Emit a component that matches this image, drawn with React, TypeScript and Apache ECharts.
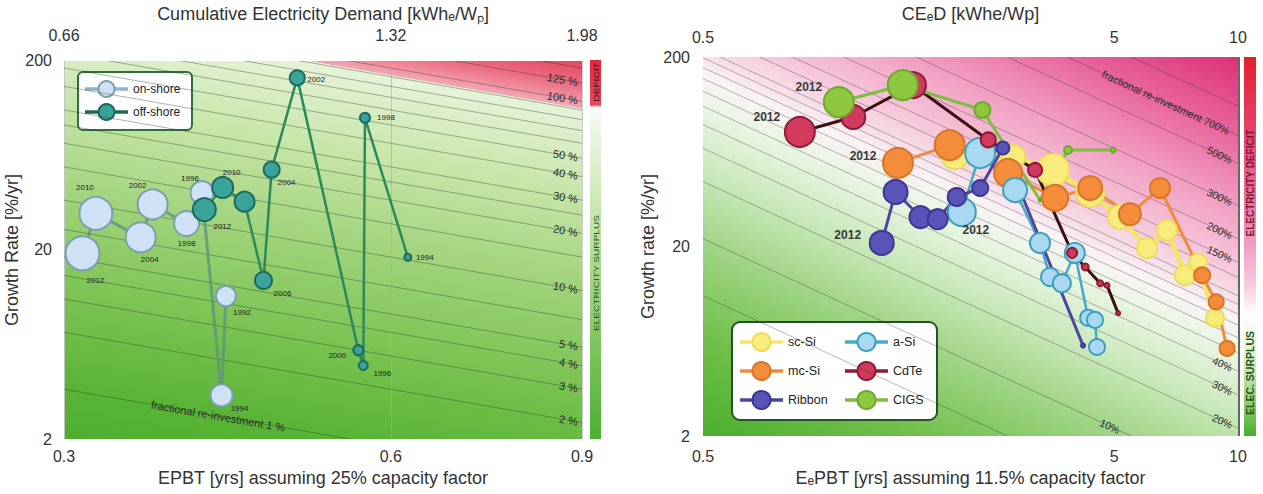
import React, { useEffect, useRef } from 'react';
import * as echarts from 'echarts';

const FONT = '"Liberation Sans", Arial, Helvetica, sans-serif';

// Fractional re-investment iso-lines: growth [%/yr] = FACTOR * f[%] / EPBT [yrs]
const REINVEST_FACTOR = 1.1;
const isoGrowth = (fPct: number, epbt: number) => (REINVEST_FACTOR * fPct) / epbt;

// ---------------- shared ----------------
const growthRange = [2, 200];
const growthTicks = [2, 20, 200];

// ---------------- left panel: wind ----------------
const windEpbtRange = [0.3, 0.9];
const windEpbtTicks = [0.3, 0.6, 0.9];
const windCedTickLabels = ['0.66', '1.32', '1.98'];

const onshoreYears = ['1992', '1994', '1996', '1998', '2002', '2004', '2010', '2012'];
const onshoreEpbt = [0.423, 0.419, 0.402, 0.389, 0.362, 0.353, 0.321, 0.312];
const onshoreGrowth = [11.4, 3.4, 40.2, 27.6, 34.8, 23.3, 31.2, 19.2];
const onshoreSize = [20, 22, 23, 25, 30, 30, 33, 34];

const offshoreYears = ['1994', '1998', '1996', '2000', '2002', '2004', '2006', '', '2010', '2012'];
const offshoreEpbt = [0.622, 0.568, 0.566, 0.56, 0.492, 0.466, 0.458, 0.44, 0.42, 0.404];
const offshoreGrowth = [18.3, 100, 4.9, 5.9, 162.6, 53.2, 13.8, 36.0, 42.8, 32.7];
const offshoreSize = [7, 10, 9, 10, 15, 16, 17, 20, 21, 23];

const windIsoLevels = [1, 2, 3, 4, 5, 7, 10, 15, 20, 25, 30, 40, 50, 60, 70, 80, 90, 100, 125, 150, 175];
const windIsoLabelLevels = [125, 100, 50, 40, 30, 20, 10, 5, 4, 3, 2, 1];
const windIsoLabelTexts = ['125 %', '100 %', '50 %', '40 %', '30 %', '20 %', '10 %', '5 %', '4 %', '3 %', '2 %', 'fractional re-investment 1 %'];

// ---------------- right panel: PV ----------------
const pvEpbtRange = [0.5, 10];
const pvEpbtTicks = [0.5, 5, 10];
const pvCedTickLabels = ['0.5', '5', '10'];

const scSiEpbt = [2.05, 2.84, 3.55, 4.37, 5.16, 6.01, 6.72, 7.43, 8.0, 8.79];
const scSiGrowth = [60.8, 59.3, 50.7, 38.3, 28.6, 19.6, 24.4, 14.1, 16.4, 8.4];
const scSiSize = [28, 24, 32, 28, 24, 20, 20, 20, 18, 18];
const scSiLabels = ['', '', '', '', '', '', '', '', '', ''];

const mcSiEpbt = [1.49, 1.99, 2.76, 3.59, 4.37, 5.46, 6.46, 8.18, 8.85, 9.41];
const mcSiGrowth = [55.2, 68.6, 48.9, 36.1, 40.7, 29.6, 40.7, 14.1, 10.2, 5.8];
const mcSiSize = [30, 30, 28, 26, 24, 22, 20, 16, 15, 15];
const mcSiLabels = ['2012', '', '', '', '', '', '', '', '', ''];

const aSiEpbt = [2.13, 2.36, 2.87, 3.3, 3.49, 3.73, 4.01, 4.32, 4.49, 4.54];
const aSiGrowth = [30.4, 62.3, 39.7, 20.9, 13.8, 12.8, 18.5, 8.4, 8.2, 5.9];
const aSiSize = [28, 30, 24, 20, 18, 18, 20, 16, 16, 16];
const aSiLabels = ['2012', '', '', '', '', '', '', '', '', ''];

const ribbonEpbt = [1.36, 1.47, 1.69, 1.86, 2.07, 2.36, 2.68, 4.2];
const ribbonGrowth = [20.9, 38.8, 28.6, 27.9, 36.5, 40.7, 66.2, 6.0];
const ribbonSize = [24, 24, 22, 20, 18, 16, 13, 4];
const ribbonLabels = ['2012', '', '', '', '', '', '', ''];

const cdteEpbt = [0.86, 1.16, 1.62, 2.47, 3.21, 3.95, 4.25, 4.62, 4.8, 5.11];
const cdteGrowth = [80.4, 96.5, 142, 73.0, 50.7, 18.5, 15.6, 12.8, 12.5, 8.9];
const cdteSize = [30, 24, 26, 15, 14, 10, 7, 6, 5, 4];
const cdteLabels = ['2012', '', '', '', '', '', '', '', '', ''];

const cigsEpbt = [1.07, 1.53, 2.39, 3.3, 3.86, 4.97];
const cigsGrowth = [115.7, 142, 105, 35.2, 64.6, 64.6];
const cigsSize = [30, 30, 16, 3, 8, 5];
const cigsLabels = ['2012', '', '', '', '', ''];

const pvIsoLevels = [5, 10, 20, 30, 40, 50, 60, 70, 80, 90, 100, 125, 150, 200, 300, 500, 700, 1000];
const pvIsoLabelLevels = [700, 500, 300, 200, 150, 40, 30, 20, 10];
const pvIsoLabelTexts = ['fractional re-investment 700%', '500%', '300%', '200%', '150%', '40%', '30%', '20%', '10%'];

// ---------------- layout / styles ----------------
const windIsoLabelAnchor = [0.892, 0.892, 0.892, 0.892, 0.892, 0.892, 0.892, 0.892, 0.892, 0.892, 0.892, 0.416];
const windIsoLabelAlign = ['right', 'right', 'right', 'right', 'right', 'right', 'right', 'right', 'right', 'right', 'right', 'center'];
const pvIsoLabelAnchor = [9.5, 9.67, 9.67, 9.67, 9.67, 9.67, 9.67, 9.67, 4.88];
const pvIsoLabelAlign = ['right', 'right', 'right', 'right', 'right', 'right', 'right', 'right', 'center'];

const onshoreLabelOffsets = [[16, 16], [18, 13], [-12, -14], [0, 20], [-15, -19], [9, 22], [-11, -26], [13, 27]];
const offshoreLabelOffsets = [[17, 0], [21, 0], [19, 8], [-21, 5], [19, 2], [15, 13], [19, 13], [0, 0], [9, -15], [18, 17]];
const pv2012Offset: Record<string, number[]> = {
  'mc-Si': [-35, -7], 'a-Si': [14, 18], Ribbon: [-34, -8], CdTe: [-33, -15], CIGS: [-30, -15], 'sc-Si': [0, 0],
};

const windBgStops: [number, string][] = [
  [0.4, '#4aab2c'], [1, '#58b435'], [3, '#79c251'], [10, '#9fd279'], [30, '#c4e4a4'],
  [60, '#d9edc5'], [91.5, '#e7f3da'], [92, '#f3a6b3'], [120, '#eb6e83'], [180, '#e03a56'],
];
const pvBgStops: [number, string][] = [
  [0.8, '#47ac29'], [3, '#70bf4a'], [10, '#a2d588'], [25, '#cdeac0'], [50, '#eaf6e4'],
  [75, '#fbf3f6'], [100, '#f8dbe7'], [150, '#f5c2d7'], [300, '#f09cc0'], [700, '#e8649c'], [2000, '#da2c72'],
];

const onshoreStyle = { fill: '#cfe2f5', border: '#7d9fae', line: 'rgba(95,150,125,0.85)', legendLine: '#8fb4c6', lineWidth: 3, borderWidth: 2 };
const offshoreStyle = { fill: '#3aa39a', border: '#1e6a5e', line: '#2b8a5a', legendLine: '#1f6b4f', lineWidth: 2.5, borderWidth: 2 };

const pvStyles: Record<string, any> = {
  'sc-Si': { fill: '#f8ec7c', border: '#eedc5c', line: '#f4e46c', lineWidth: 5, borderWidth: 2 },
  'mc-Si': { fill: '#f38d3a', border: '#d8752c', line: '#f08b3c', lineWidth: 3, borderWidth: 2 },
  'a-Si': { fill: '#a9d9f1', border: '#3d9fbe', line: '#47a9c4', lineWidth: 2.5, borderWidth: 2 },
  Ribbon: { fill: '#5b54b8', border: '#3b3793', line: '#4b479f', lineWidth: 3, borderWidth: 2 },
  CdTe: { fill: '#d13a5c', border: '#8c1d36', line: '#3b0f14', lineWidth: 3, borderWidth: 2 },
  CIGS: { fill: '#8dc63f', border: '#6fa92c', line: '#7dbe3e', lineWidth: 3, borderWidth: 2 },
};

const tickFmt = (ticks: number[], labels: string[]) => (v: number) => {
  let best = 0;
  ticks.forEach((t, i) => { if (Math.abs(Math.log(t) - Math.log(v)) < Math.abs(Math.log(ticks[best]) - Math.log(v))) best = i; });
  return labels[best];
};

function backgroundSeries(xi: number, yi: number, xr: number[], yr: number[], stops: [number, string][]) {
  return {
    type: 'custom', xAxisIndex: xi, yAxisIndex: yi, z: -1, silent: true, clip: true,
    data: [[xr[0], yr[0]]],
    renderItem: (params: any, api: any) => {
      const f0 = stops[0][0];
      const f1 = stops[stops.length - 1][0];
      const a = api.coord([xr[0], isoGrowth(f0, xr[0])]);
      const b = api.coord([xr[1], isoGrowth(f0, xr[1])]);
      let dx = b[0] - a[0], dy = b[1] - a[1];
      const len = Math.hypot(dx, dy); dx /= len; dy /= len;
      const nx = -dy, ny = dx;
      const c = api.coord([xr[0], isoGrowth(f1, xr[0])]);
      const dist = (c[0] - a[0]) * nx + (c[1] - a[1]) * ny;
      const e = [a[0] + nx * dist, a[1] + ny * dist];
      const l0 = Math.log(f0), span = Math.log(f1) - l0;
      const colorStops = stops.map(([f, color]) => ({ offset: (Math.log(f) - l0) / span, color }));
      const tl = api.coord([xr[0], yr[1]]);
      const br = api.coord([xr[1], yr[0]]);
      return {
        type: 'rect',
        shape: { x: tl[0], y: tl[1], width: br[0] - tl[0], height: br[1] - tl[1] },
        style: { fill: new echarts.graphic.LinearGradient(a[0], a[1], e[0], e[1], colorStops, true) },
      };
    },
  };
}

function isoLineSeries(xi: number, yi: number, xr: number[], levels: number[], color: string) {
  return {
    type: 'custom', xAxisIndex: xi, yAxisIndex: yi, z: 1, silent: true, clip: true,
    data: levels.map((f) => [xr[0], isoGrowth(f, xr[0])]),
    renderItem: (params: any, api: any) => {
      const f = levels[params.dataIndex];
      const p0 = api.coord([xr[0], isoGrowth(f, xr[0])]);
      const p1 = api.coord([xr[1], isoGrowth(f, xr[1])]);
      return { type: 'line', shape: { x1: p0[0], y1: p0[1], x2: p1[0], y2: p1[1] }, style: { stroke: color, lineWidth: 0.7 } };
    },
  };
}

function isoLabelSeries(xi: number, yi: number, xr: number[], levels: number[], texts: string[], anchors: number[], aligns: string[], fontSize: number) {
  return {
    type: 'custom', xAxisIndex: xi, yAxisIndex: yi, z: 1, silent: true,
    data: levels.map((f, i) => [anchors[i], isoGrowth(f, anchors[i])]),
    renderItem: (params: any, api: any) => {
      const i = params.dataIndex;
      const f = levels[i];
      const p0 = api.coord([xr[0], isoGrowth(f, xr[0])]);
      const p1 = api.coord([xr[1], isoGrowth(f, xr[1])]);
      const ang = Math.atan2(p1[1] - p0[1], p1[0] - p0[0]);
      const p = api.coord([anchors[i], isoGrowth(f, anchors[i])]);
      return {
        type: 'text', x: p[0], y: p[1], rotation: -ang,
        style: { text: texts[i], fontSize, fontFamily: FONT, fill: '#2b2b2b', align: aligns[i], verticalAlign: 'middle' },
      };
    },
  };
}

function bubbleSeries(name: string, xi: number, yi: number, xs: number[], ys: number[], sizes: number[], labels: string[], offsets: number[][], st: any, labelStyle: any) {
  return {
    type: 'line', name, xAxisIndex: xi, yAxisIndex: yi, silent: true,
    emphasis: { disabled: true },
    symbol: 'circle', showSymbol: true, showAllSymbol: true,
    symbolSize: (v: any, p: any) => sizes[p.dataIndex],
    lineStyle: { color: st.line, width: st.lineWidth },
    itemStyle: { color: st.fill, borderColor: st.border, borderWidth: st.borderWidth },
    label: { show: false, position: 'inside', fontFamily: FONT, formatter: (p: any) => labels[p.dataIndex], ...labelStyle },
    data: xs.map((x, i) => ({
      value: [x, ys[i]],
      label: labels[i] ? { show: true, offset: offsets[i] } : { show: false },
    })),
  };
}

function legendEntry(x: number, y: number, lineLen: number, r: number, st: any, lineColor: string, text: string, fontSize: number) {
  return [
    { type: 'line', shape: { x1: x, y1: y, x2: x + lineLen, y2: y }, style: { stroke: lineColor, lineWidth: 3.5 } },
    { type: 'circle', shape: { cx: x + lineLen / 2, cy: y, r }, style: { fill: st.fill, stroke: st.border, lineWidth: 2 } },
    { type: 'text', x: x + lineLen + 5, y, style: { text, fontSize, fontFamily: FONT, fill: '#222', verticalAlign: 'middle' } },
  ];
}

function buildOption() {
  const axisLabelStyle = { color: '#333', fontSize: 16, fontFamily: FONT };
  const nameStyle = { color: '#333', fontSize: 18, fontFamily: FONT };

  const pvSeriesDefs = [
    ['sc-Si', scSiEpbt, scSiGrowth, scSiSize, scSiLabels],
    ['mc-Si', mcSiEpbt, mcSiGrowth, mcSiSize, mcSiLabels],
    ['a-Si', aSiEpbt, aSiGrowth, aSiSize, aSiLabels],
    ['Ribbon', ribbonEpbt, ribbonGrowth, ribbonSize, ribbonLabels],
    ['CdTe', cdteEpbt, cdteGrowth, cdteSize, cdteLabels],
    ['CIGS', cigsEpbt, cigsGrowth, cigsSize, cigsLabels],
  ] as any[];

  const pvLabelStyle = { fontSize: 12, fontWeight: 'bold', color: '#3a3a3a' };

  const leftLegendRows = [
    ['on-shore', onshoreStyle],
    ['off-shore', offshoreStyle],
  ] as any[];
  const pvLegendOrder = [['sc-Si', 'a-Si'], ['mc-Si', 'CdTe'], ['Ribbon', 'CIGS']];

  const graphics: any[] = [];
  graphics.push({ type: 'rect', shape: { x: 78, y: 72, width: 114, height: 58, r: 5 }, style: { fill: '#fff', stroke: '#2f6e3f', lineWidth: 2 } });
  leftLegendRows.forEach(([name, st], i) => {
    graphics.push(...legendEntry(85, 89 + i * 23, 43, 8, st, st.legendLine, name, 12));
  });
  graphics.push({ type: 'rect', shape: { x: 732, y: 322, width: 205, height: 98, r: 8 }, style: { fill: '#fff', stroke: '#24502a', lineWidth: 2 } });
  pvLegendOrder.forEach((row, ri) => {
    row.forEach((name, ci) => {
      const st = pvStyles[name];
      graphics.push(...legendEntry(ci === 0 ? 740 : 845, 342 + ri * 29, 43, 9, st, st.line === '#3b0f14' ? '#8c1d36' : st.line, name, 12.5));
    });
  });
  graphics.push({
    type: 'rect', shape: { x: 590, y: 60, width: 11, height: 379 },
    style: { fill: new echarts.graphic.LinearGradient(0, 0, 0, 1, [
      { offset: 0, color: '#e2273d' }, { offset: 0.118, color: '#e8475c' }, { offset: 0.125, color: '#fbfbf8' },
      { offset: 0.17, color: '#f0f7ea' }, { offset: 0.45, color: '#bde2a2' }, { offset: 0.72, color: '#84c864' }, { offset: 1, color: '#4caf32' },
    ]) },
  });
  graphics.push({ type: 'text', x: 596, y: 82, rotation: Math.PI / 2, scaleX: 1.35, style: { text: 'DEFICIT', fontSize: 7.5, fontFamily: FONT, fill: '#2a1212', align: 'center', verticalAlign: 'middle' } });
  graphics.push({ type: 'text', x: 596, y: 273, rotation: Math.PI / 2, scaleX: 1.35, style: { text: 'ELECTRICITY SURPLUS', fontSize: 7.5, fontFamily: FONT, fill: '#1f4f1f', align: 'center', verticalAlign: 'middle' } });
  graphics.push({
    type: 'rect', shape: { x: 1244, y: 57, width: 12, height: 379 },
    style: { fill: new echarts.graphic.LinearGradient(0, 0, 0, 1, [
      { offset: 0, color: '#e3202c' }, { offset: 0.15, color: '#e53a5e' }, { offset: 0.4, color: '#ec76a6' },
      { offset: 0.6, color: '#f7cadd' }, { offset: 0.68, color: '#ffffff' }, { offset: 0.78, color: '#e2f2d6' },
      { offset: 0.9, color: '#9bd27b' }, { offset: 1, color: '#4aae30' },
    ]) },
  });
  graphics.push({ type: 'text', x: 1250, y: 183, rotation: Math.PI / 2, style: { text: 'ELECTRICITY DEFICIT', fontSize: 10, fontWeight: 'bold', fontFamily: FONT, fill: '#7c1636', align: 'center', verticalAlign: 'middle' } });
  graphics.push({ type: 'text', x: 1250, y: 373, rotation: Math.PI / 2, style: { text: 'ELEC. SURPLUS', fontSize: 10.5, fontWeight: 'bold', fontFamily: FONT, fill: '#1d5a1d', align: 'center', verticalAlign: 'middle' } });
  graphics.push({ type: 'line', shape: { x1: 1239, y1: 57, x2: 1239, y2: 436 }, style: { stroke: '#333', lineWidth: 1.5 } });

  return {
    animation: false,
    backgroundColor: '#ffffff',
    grid: [
      { left: 64, top: 60, width: 518, height: 379 },
      { left: 703, top: 57, width: 535, height: 379 },
    ],
    xAxis: [
      {
        gridIndex: 0, type: 'log', position: 'bottom', min: windEpbtRange[0], max: windEpbtRange[1],
        name: 'EPBT [yrs] assuming 25% capacity factor', nameLocation: 'middle', nameGap: 30, nameTextStyle: nameStyle,
        axisLine: { show: false }, axisTick: { show: false, customValues: windEpbtTicks },
        axisLabel: { ...axisLabelStyle, margin: 9, customValues: windEpbtTicks, formatter: tickFmt(windEpbtTicks, windEpbtTicks.map(String)) },
        splitLine: { show: true, lineStyle: { color: 'rgba(170,170,170,0.6)', width: 1 } }, minorSplitLine: { show: false },
      },
      {
        gridIndex: 0, type: 'log', position: 'top', min: windEpbtRange[0], max: windEpbtRange[1],
        name: 'Cumulative Electricity Demand [kWhₑ/Wₚ]', nameLocation: 'middle', nameGap: 37, nameTextStyle: nameStyle,
        axisLine: { show: false }, axisTick: { show: false },
        axisLabel: { ...axisLabelStyle, margin: 17, customValues: windEpbtTicks, formatter: tickFmt(windEpbtTicks, windCedTickLabels) },
        splitLine: { show: false },
      },
      {
        gridIndex: 1, type: 'log', position: 'bottom', min: pvEpbtRange[0], max: pvEpbtRange[1],
        name: 'EₑPBT [yrs] assuming 11.5% capacity factor', nameLocation: 'middle', nameGap: 33, nameTextStyle: nameStyle,
        axisLine: { show: false }, axisTick: { show: false },
        axisLabel: { ...axisLabelStyle, margin: 12, customValues: pvEpbtTicks, formatter: tickFmt(pvEpbtTicks, pvEpbtTicks.map(String)) },
        splitLine: { show: false },
      },
      {
        gridIndex: 1, type: 'log', position: 'top', min: pvEpbtRange[0], max: pvEpbtRange[1],
        name: 'CEₑD [kWhe/Wp]', nameLocation: 'middle', nameGap: 34, nameTextStyle: nameStyle,
        axisLine: { show: false }, axisTick: { show: false },
        axisLabel: { ...axisLabelStyle, margin: 12, customValues: pvEpbtTicks, formatter: tickFmt(pvEpbtTicks, pvCedTickLabels) },
        splitLine: { show: false },
      },
    ],
    yAxis: [
      {
        gridIndex: 0, type: 'log', min: growthRange[0], max: growthRange[1],
        name: 'Growth Rate [%/yr]', nameLocation: 'middle', nameGap: 36, nameTextStyle: nameStyle,
        axisLine: { show: true, lineStyle: { color: '#c4c4c4' } }, axisTick: { show: false },
        axisLabel: { ...axisLabelStyle, margin: 12, customValues: growthTicks, formatter: tickFmt(growthTicks, growthTicks.map(String)) },
        splitLine: { show: false },
      },
      {
        gridIndex: 1, type: 'log', min: growthRange[0], max: growthRange[1],
        name: 'Growth rate [%/yr]', nameLocation: 'middle', nameGap: 46, nameTextStyle: nameStyle,
        axisLine: { show: false }, axisTick: { show: false },
        axisLabel: { ...axisLabelStyle, margin: 13, customValues: growthTicks, formatter: tickFmt(growthTicks, growthTicks.map(String)) },
        splitLine: { show: false },
      },
    ],
    series: [
      backgroundSeries(0, 0, windEpbtRange, growthRange, windBgStops),
      isoLineSeries(0, 0, windEpbtRange, windIsoLevels, 'rgba(40,60,40,0.55)'),
      isoLabelSeries(0, 0, windEpbtRange, windIsoLabelLevels, windIsoLabelTexts, windIsoLabelAnchor, windIsoLabelAlign, 11),
      bubbleSeries('on-shore', 0, 0, onshoreEpbt, onshoreGrowth, onshoreSize, onshoreYears, onshoreLabelOffsets, onshoreStyle, { fontSize: 8, color: '#222' }),
      bubbleSeries('off-shore', 0, 0, offshoreEpbt, offshoreGrowth, offshoreSize, offshoreYears, offshoreLabelOffsets, offshoreStyle, { fontSize: 8, color: '#222' }),

      backgroundSeries(2, 1, pvEpbtRange, growthRange, pvBgStops),
      isoLineSeries(2, 1, pvEpbtRange, pvIsoLevels, 'rgba(50,50,50,0.5)'),
      isoLabelSeries(2, 1, pvEpbtRange, pvIsoLabelLevels, pvIsoLabelTexts, pvIsoLabelAnchor, pvIsoLabelAlign, 10.5),
      ...pvSeriesDefs.map(([name, xs, ys, sizes, labels]) =>
        bubbleSeries(name, 2, 1, xs, ys, sizes, labels, labels.map(() => pv2012Offset[name]), pvStyles[name], pvLabelStyle)),
    ],
    graphic: graphics,
  };
}

export default function App() {
  const ref = useRef<HTMLDivElement>(null);
  useEffect(() => {
    document.body.style.margin = '0';
    const chart = echarts.init(ref.current!, undefined, { renderer: 'svg' });
    chart.setOption(buildOption() as any);
    return () => chart.dispose();
  }, []);
  return <div ref={ref} style={{ width: 1263, height: 494, background: '#fff' }} />;
}
